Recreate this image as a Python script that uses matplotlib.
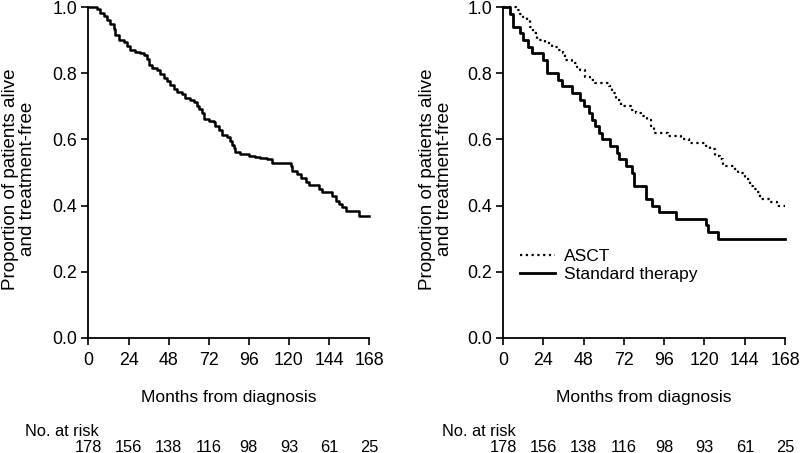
import matplotlib
matplotlib.use("Agg")
import matplotlib.pyplot as plt
import matplotlib.transforms as mtransforms

plt.rcParams['font.family'] = ['Liberation Sans', 'DejaVu Sans']

# ---- data ----
all_t = [0, 5, 7, 9, 11, 13, 15, 16, 18, 21, 23, 25, 28, 31, 33, 35, 36, 38, 41, 43,
         45, 47, 49, 51, 53, 56, 58, 61, 63, 65, 66, 68, 69, 72, 75, 76, 78, 80, 83,
         85, 86, 87, 88, 91, 96, 100, 103, 107, 110, 121, 122, 125, 127, 130, 132,
         138, 140, 146, 148, 150, 152, 154, 162, 168]
all_s = [1.0, 0.994, 0.983, 0.972, 0.961, 0.950, 0.933, 0.916, 0.899, 0.893, 0.882,
         0.871, 0.865, 0.860, 0.854, 0.843, 0.826, 0.815, 0.809, 0.798, 0.787, 0.775,
         0.764, 0.753, 0.742, 0.736, 0.725, 0.719, 0.713, 0.702, 0.691, 0.680, 0.663,
         0.657, 0.652, 0.641, 0.629, 0.612, 0.607, 0.596, 0.584, 0.573, 0.562, 0.556,
         0.551, 0.548, 0.545, 0.540, 0.530, 0.520, 0.505, 0.495, 0.483, 0.472, 0.462,
         0.451, 0.440, 0.430, 0.415, 0.405, 0.395, 0.384, 0.370, 0.370]

asct_t = [0, 8, 10, 12, 14, 16, 18, 20, 25, 29, 33, 36, 37, 41, 44, 46, 49, 52, 55,
          63, 65, 67, 70, 76, 79, 82, 86, 88, 90, 98, 106, 111, 121, 123, 126, 129,
          131, 138, 140, 144, 147, 149, 151, 153, 159, 163, 168]
asct_s = [1.0, 0.99, 0.98, 0.97, 0.96, 0.94, 0.92, 0.90, 0.89, 0.88, 0.87, 0.86, 0.84,
          0.83, 0.82, 0.81, 0.79, 0.78, 0.77, 0.76, 0.74, 0.72, 0.70, 0.69, 0.68, 0.67,
          0.66, 0.64, 0.62, 0.61, 0.60, 0.59, 0.58, 0.57, 0.55, 0.54, 0.52, 0.51, 0.50,
          0.48, 0.46, 0.45, 0.44, 0.42, 0.41, 0.40, 0.40]

std_t = [0, 4, 6, 10, 12, 15, 17, 24, 26, 33, 35, 41, 46, 48, 51, 53, 55, 57, 59, 64,
         68, 69, 73, 77, 78, 85, 89, 93, 103, 121, 122, 128, 168]
std_s = [1.0, 0.98, 0.94, 0.92, 0.90, 0.88, 0.86, 0.84, 0.80, 0.78, 0.76, 0.74, 0.72,
         0.70, 0.68, 0.66, 0.64, 0.62, 0.60, 0.58, 0.56, 0.54, 0.52, 0.50, 0.46, 0.42,
         0.40, 0.38, 0.36, 0.34, 0.32, 0.30, 0.30]

xticks = [0, 24, 48, 72, 96, 120, 144, 168]
yticks = [0.0, 0.2, 0.4, 0.6, 0.8, 1.0]
risk_left = [178, 156, 138, 116, 98, 93, 61, 25]
risk_right = [178, 156, 138, 116, 98, 93, 61, 25]

ylabel = "Proportion of patients alive\nand treatment-free"
xlabel = "Months from diagnosis"

fig = plt.figure(figsize=(8, 4.53), dpi=100)
ax1 = fig.add_axes([0.1106, 0.2539, 0.3507, 0.7306])
ax2 = fig.add_axes([0.6288, 0.2539, 0.3525, 0.7306])

tick_fs = 12.8
xl_fs = 12.5
yl_fs = 13.5
risk_fs = 11.8


def style(ax, ylab_x):
    ax.set_xlim(0, 168)
    ax.set_ylim(0, 1.0)
    ax.set_xticks(xticks)
    ax.set_yticks(yticks)
    ax.set_yticklabels([f"{v:.1f}" for v in yticks])
    for s in ['top', 'right']:
        ax.spines[s].set_visible(False)
    for s in ['left', 'bottom']:
        ax.spines[s].set_linewidth(1.3)
        ax.spines[s].set_color('black')
    ax.tick_params(direction='out', length=5, width=1.2, labelsize=tick_fs, pad=3)
    ax.tick_params(axis='x', pad=5)
    ax.set_xlabel(xlabel, fontsize=xl_fs)
    ax.xaxis.set_label_coords(0.5, -0.18)
    ax.xaxis.label.set_va('center')
    ax.set_ylabel(ylabel, fontsize=yl_fs, linespacing=1.0)
    ax.yaxis.set_label_coords(ylab_x, 0.48)
    ax.yaxis.label.set_va('center')


style(ax1, -0.246)
style(ax2, -0.238)

ax1.step(all_t, all_s, where='post', color='black', lw=1.8, clip_on=False)

ax2.step(asct_t, asct_s, where='post', color='black', lw=1.6,
         linestyle=(0, (1, 1.6)), label='ASCT', clip_on=False)
ax2.step(std_t, std_s, where='post', color='black', lw=2.0,
         label='Standard therapy', clip_on=False)

leg = ax2.legend(loc='upper left', bbox_to_anchor=(0.018, 0.305), frameon=False,
                 fontsize=xl_fs, handlelength=2.0, handletextpad=0.5,
                 labelspacing=0.15, borderaxespad=0.3)

for ax, risk in ((ax1, risk_left), (ax2, risk_right)):
    tr = mtransforms.blended_transform_factory(ax.transData, fig.transFigure)
    for x, n in zip(xticks, risk):
        ax.text(x, 1 - 447 / 453, str(n), transform=tr, ha='center', va='center',
                fontsize=risk_fs, clip_on=False)

fig.text(25 / 800, 1 - 432 / 453, "No. at risk", ha='left', va='center', fontsize=risk_fs)
fig.text(442 / 800, 1 - 432 / 453, "No. at risk", ha='left', va='center', fontsize=risk_fs)

fig.savefig("out.png", dpi=100)
